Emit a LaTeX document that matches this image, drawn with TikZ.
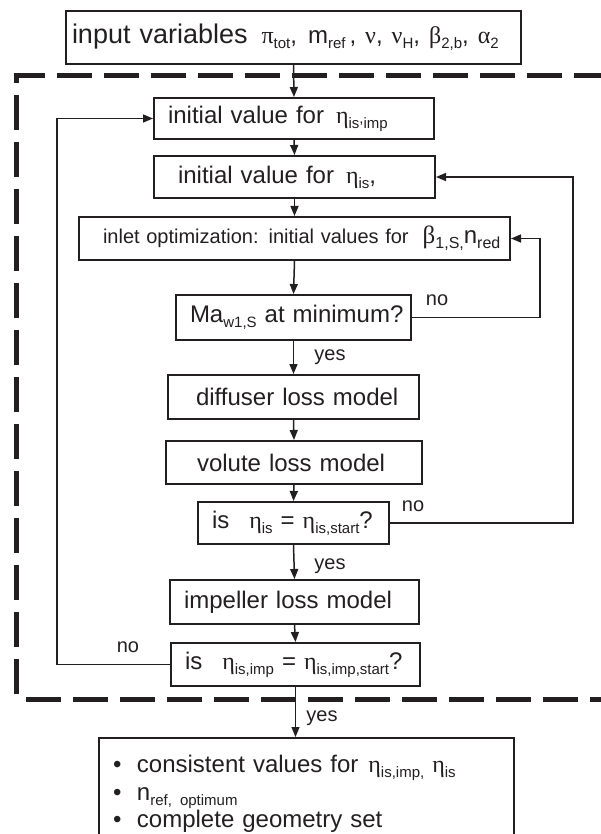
\documentclass[tikz,border=0pt]{standalone}
\usepackage{fontspec}
\setmainfont{Liberation Sans}
\newfontfamily\grk{Liberation Serif}
\usetikzlibrary{arrows.meta}
\definecolor{ink}{RGB}{35,31,32}

% Greek letters and lowered subscripts
\newcommand\gk[1]{{\grk #1}}
\newcommand\sub[2][15]{\raisebox{-5pt}{\fontsize{#1}{#1}\selectfont #2}}

% \stepnode{name}{x1}{y1}{x2}{y2}{left pad}{font size}{content}
\newcommand\stepnode[8]{%
  \pgfmathsetmacro\bw{#4-#2}%
  \pgfmathsetmacro\bh{#5-#3}%
  \node[boxst, anchor=north west, minimum width=\bw pt, minimum height=\bh pt,
        text width=\bw pt, font=\fontsize{#7}{#7}\selectfont]
        (#1) at (#2,#3) {\hspace*{#6pt}\mbox{#8}};}

\begin{document}
\begin{tikzpicture}[x=1pt, y=-1pt,
  boxst/.style={draw=ink, line width=2pt, inner sep=0pt, align=left, text=ink},
  conn/.style={draw=ink, line width=1.5pt, -{Triangle[length=10pt,width=8pt]}},
  lbl/.style={text=ink, font=\fontsize{20}{20}\selectfont, inner sep=0pt},
  frame/.style={draw=ink, line width=5pt, dash pattern=on 35pt off 12pt, line join=miter}]

\useasboundingbox (0,0) rectangle (601,834);
\clip (0,0) rectangle (601,834);

% dashed frame around the iteration loop
\draw[frame] (16.5,694) -- (16.5,76) -- (640,76);
\draw[frame] (26,699) -- (640,699);

% process steps
\stepnode{inp}{65}{10}{520}{63}{6}{27}{input variables\hspace{14pt}{\fontsize{24}{24}\selectfont\gk{π}\sub{tot},\hspace{11pt}m\sub{ref}\,, \gk{ν}, \gk{ν}\sub{H}, \gk{β}\sub{2,b}, \gk{α}\sub{2}}}
\stepnode{iv1}{153}{97}{433}{138}{14}{24}{initial value for\hspace{12pt}\gk{η}\sub{is\raisebox{5pt}{,}imp}}
\stepnode{iv2}{153}{155}{434}{197}{24}{24}{initial value for\hspace{12pt}\gk{η}\sub{is},}
\stepnode{inl}{78}{216}{509}{259}{24}{20}{inlet optimization: initial values for\hspace{14pt}{\fontsize{25}{25}\selectfont\gk{β}}\sub[16]{1,S,}{\fontsize{24}{24}\selectfont n}\sub[16]{red}}
\stepnode{ma}{175}{294}{410}{339}{14}{24}{Ma\sub{w1,S} at minimum?}
\stepnode{dif}{167}{374}{418}{418}{28}{24}{diffuser loss model}
\stepnode{vol}{165}{440}{421}{483}{31}{24}{volute loss model}
\stepnode{chk}{197}{501}{388}{543}{14}{24}{is\hspace{20pt}\gk{η}\sub{is} = \gk{η}\sub{is,start}?}
\stepnode{imp}{169}{579}{418}{623}{14}{24}{impeller loss model}
\stepnode{fin}{170}{642}{419}{685}{14}{24}{is\hspace{20pt}\gk{η}\sub{is,imp} = \gk{η}\sub{is,imp,start}?}

% result box (runs off the lower edge)
\node[boxst, anchor=north west, minimum width=415pt, minimum height=112pt,
      text width=415pt, font=\fontsize{24}{27.5}\selectfont] (res) at (98,737)
  {\hspace*{14pt}\makebox[24pt][l]{•}consistent values for\hspace{10pt}\gk{η}\sub{is,imp,}\hspace{8pt}\gk{η}\sub{is}\\
   \hspace*{14pt}\makebox[24pt][l]{•}n\sub{ref, optimum}\\
   \hspace*{14pt}\makebox[24pt][l]{•}complete geometry set};

% loop turning points
\coordinate (rin) at (540,0);
\coordinate (rout) at (573,0);
\coordinate (lout) at (57,0);

% main flow
\draw[conn] (inp.south) -- (iv1.north);
\draw[conn] (iv1.south) -- (iv2.north);
\draw[conn] (iv2.south) -- (inl.north);
\draw[conn] (inl.south) -- (ma.north);
\draw[conn] (ma.south) -- (dif.north);
\draw[conn] (dif.south) -- (vol.north);
\draw[conn] (vol.south) -- (chk.north);
\draw[conn] (chk.south) -- (imp.north);
\draw[conn] (imp.south) -- (fin.north);
\draw[conn, line width=0.9pt] (fin.south) -- (res.north -| fin.south);

% feedback loops
\draw[conn] (ma.east) -- (ma.east -| rin) |- (inl.east);
\draw[conn] (chk.east) -- (chk.east -| rout) |- (iv2.east);
\draw[conn] (fin.west) -- (fin.west -| lout) |- (iv1.west);

% branch labels
\node[lbl] (no1) at (437,300) {no};
\node[lbl] (yes1) at (330,357) {yes};
\node[lbl] (no2) at (413,506) {no};
\node[lbl] (yes2) at (330,566) {yes};
\node[lbl] (no3) at (128,647) {no};
\node[lbl] (yes3) at (322,718) {yes};
\end{tikzpicture}
\end{document}
